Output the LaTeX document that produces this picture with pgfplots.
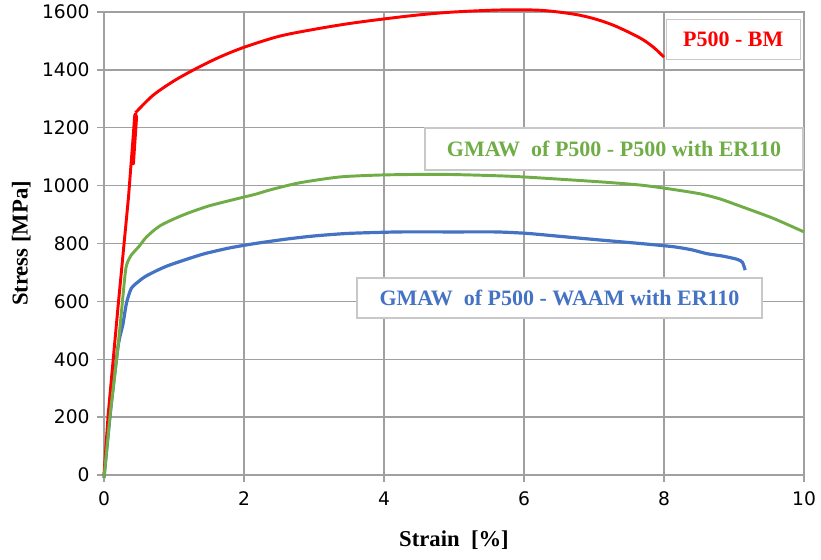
\documentclass[border=0pt]{standalone}
\usepackage{fontspec}
\setmainfont{Liberation Serif}
\newfontfamily\tickfont{DejaVu Sans}
\usepackage{pgfplots}
\pgfplotsset{compat=1.18}
\definecolor{gridc}{RGB}{160,160,160}
\definecolor{xred}{RGB}{255,0,0}
\definecolor{xgreen}{RGB}{112,173,71}
\definecolor{xblue}{RGB}{68,114,196}
\definecolor{boxc}{RGB}{200,200,200}
\begin{document}
\begin{tikzpicture}
\begin{axis}[
  at={(0,0)}, anchor=south west,
  scale only axis,
  width=525pt, height=347.25pt,
  xmin=0, xmax=10, ymin=0, ymax=1600,
  xtick={0,2,...,10}, ytick={0,200,...,1600},
  grid=major,
  grid style={gridc, line width=1.1pt},
  axis line style={gridc, line width=1.1pt},
  major tick style={gridc, line width=1.1pt},
  tick pos=left, tick align=outside, major tick length=5.25pt,
  /pgf/number format/assume math mode=true,
  /pgf/number format/1000 sep={},
  ticklabel style={font=\tickfont\fontsize{14}{16}\selectfont, text=black},
  yticklabel style={xshift=-2pt},
  xticklabel style={yshift=-4pt},
  xlabel={\textbf{Strain\ \ [\%]}},
  ylabel={\textbf{Stress [MPa]}},
  label style={font=\fontsize{17}{19}\selectfont},
  xlabel style={at={(axis description cs:0.5,0)}, anchor=center, yshift=-48.75pt},
  ylabel style={at={(axis description cs:0,0.5)}, anchor=center, yshift=62pt},
  clip=false,
]
\addplot[xblue, line width=2.4pt, smooth, tension=0.4] coordinates {
(0,-10) (0.09,213) (0.2,443) (0.27,520) (0.32,593) (0.39,645) (0.5,670) (0.59,686)
(0.75,706) (0.92,724) (1.2,747) (1.44,765) (1.8,785) (2.16,800) (2.6,815)
(3.0,826) (3.5,835) (4.23,840) (5.0,840) (5.6,840) (6.04,835) (6.5,825)
(7.09,812) (7.66,800) (8.13,789) (8.4,778) (8.61,765) (8.85,756)
(9.05,745) (9.12,735) (9.16,708)
};
\addplot[xred, line width=2.2pt, line join=round] coordinates {
(0,0) (0.06,210) (0.2,580) (0.35,960) (0.42,1180) (0.44,1245) (0.46,1240)
(0.42,1075) (0.465,1235) (0.45,1252)
};
\addplot[xred, line width=2.2pt, smooth, tension=0.5] coordinates {
(0.45,1252) (0.7,1312) (1.0,1362) (1.32,1405)
(1.65,1444) (2.0,1478) (2.5,1516) (3.0,1540) (3.5,1560) (4.0,1576)
(4.5,1590) (5.0,1600) (5.66,1607) (6.23,1606) (6.7,1593) (7.0,1577)
(7.3,1552) (7.66,1510) (7.85,1478) (8.0,1444)
};
\addplot[xgreen, line width=2.2pt, smooth, tension=0.4] coordinates {
(0,-10) (0.09,213) (0.2,443) (0.3,690) (0.33,731) (0.39,760) (0.5,790)
(0.59,818) (0.7,843) (0.82,864) (1.0,885) (1.2,905) (1.5,930) (1.94,957)
(2.16,970) (2.4,987) (2.8,1010) (3.37,1030) (4.0,1037) (4.8,1039)
(5.5,1035) (6.0,1030) (7.09,1013) (7.66,1002) (8.04,990) (8.51,972)
(8.8,954) (9.09,929) (9.56,887) (10,840)
};
\node[draw=boxc, line width=1pt, fill=white, minimum width=100.5pt, minimum height=30pt,
  inner sep=0pt, text=xred, font=\bfseries\fontsize{16.5}{18}\selectfont]
  at (axis cs:8.99,1504) {P500 - BM};
\node[draw=boxc, line width=1pt, fill=white, minimum width=283.5pt, minimum height=31.5pt,
  inner sep=0pt, text=xgreen, font=\bfseries\fontsize{16.5}{18}\selectfont]
  at (axis cs:7.286,1127) {GMAW\ \ of P500 - P500 with ER110};
\node[draw=boxc, line width=1pt, fill=white, minimum width=303.75pt, minimum height=30pt,
  inner sep=0pt, text=xblue, font=\bfseries\fontsize{16.5}{18}\selectfont]
  at (axis cs:6.507,612) {GMAW\ \ of P500 - WAAM with ER110};
\end{axis}
\pgfresetboundingbox
\path (-78pt,-63.75pt) rectangle (537.75pt,356.25pt);
\end{tikzpicture}
\end{document}
